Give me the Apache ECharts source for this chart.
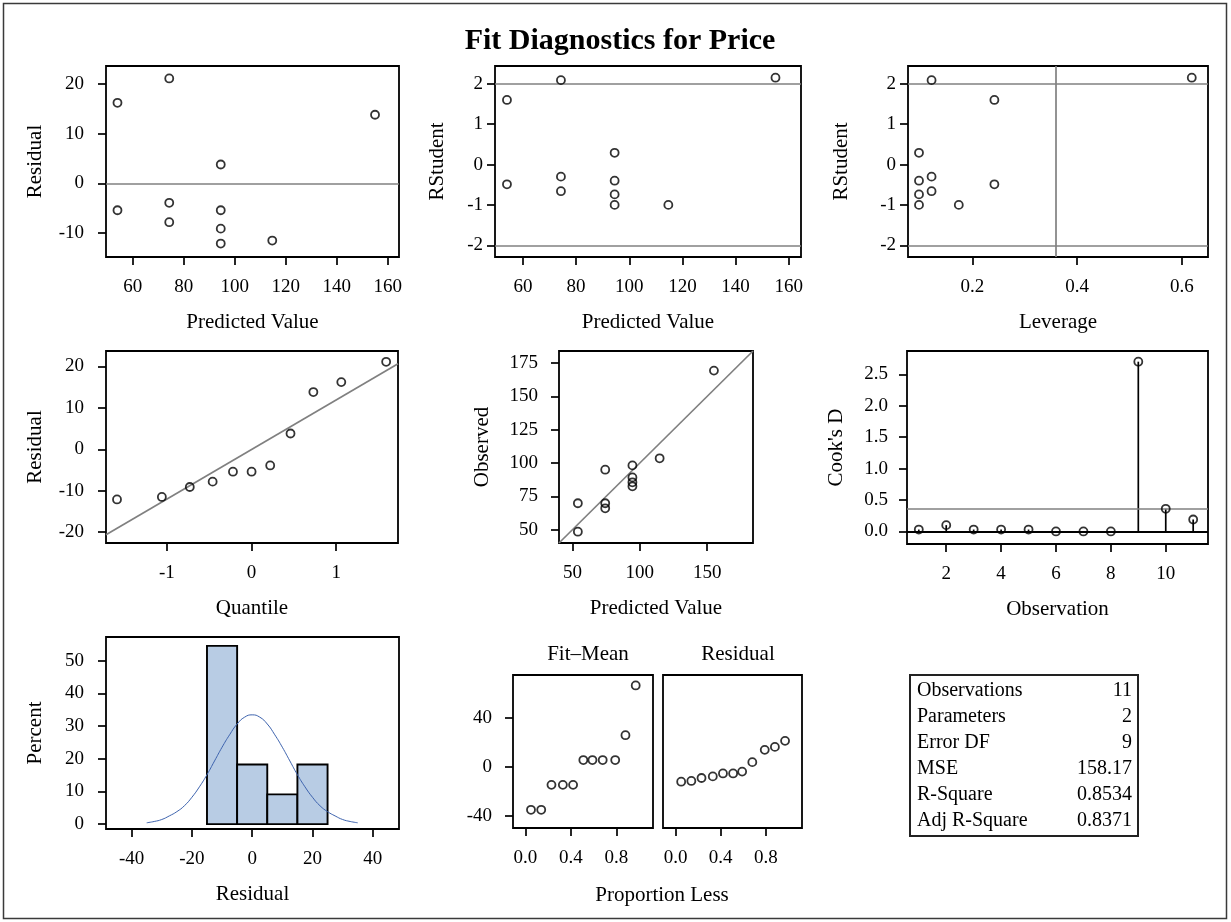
<!DOCTYPE html>
<html><head><meta charset="utf-8">
<script src="https://cdn.jsdelivr.net/npm/echarts@6/dist/echarts.min.js"></script>
<style>html,body{margin:0;padding:0;background:#fff}#c{width:1231px;height:922px}</style>
</head><body><div id="c"></div>
<script>
// ---------------- data ----------------
const observation = [1, 2, 3, 4, 5, 6, 7, 8, 9, 10, 11];
const predicted   = [54.0, 114.7, 74.3, 94.5, 94.5, 74.3, 94.5, 94.5, 155.0, 54.0, 74.3];
const residual    = [-5.4, -11.5, -7.8, -9.1, -12.1, -3.9, 3.8, -5.4, 13.8, 16.2, 21.1];
const rstudent    = [-0.49, -1.00, -0.66, -0.74, -1.00, -0.30, 0.29, -0.40, 2.15, 1.60, 2.09];
const leverage    = [0.242, 0.174, 0.122, 0.098, 0.098, 0.122, 0.098, 0.098, 0.619, 0.242, 0.122];
const observed    = [48.5, 103.5, 66.0, 85.5, 82.5, 69.8, 98.2, 89.2, 169.3, 69.8, 95.0];
const cooksD      = [0.03, 0.10, 0.03, 0.03, 0.03, 0.00, 0.00, 0.00, 2.70, 0.36, 0.19];
const cooksCutoff = [0.364];
const rstudentRef = [-2, 2];
const leverageRef = [0.364];
const quantile    = [-1.59, -1.06, -0.73, -0.46, -0.22, 0.00, 0.22, 0.46, 0.73, 1.06, 1.59];
const residualSorted = [-12.1, -11.5, -9.1, -7.8, -5.4, -5.4, -3.9, 3.8, 13.8, 16.2, 21.1];
const qqLine      = [[-1.72, -20.6], [1.73, 20.6]];
const fitMeanSorted  = [-35.0, -35.0, -14.7, -14.7, -14.7, 5.5, 5.5, 5.5, 5.5, 25.7, 66.2];
const proportionLess = [0.05, 0.14, 0.23, 0.33, 0.42, 0.51, 0.59, 0.68, 0.79, 0.88, 0.97];
const binStart    = [-15, -5, 5, 15];
const binEnd      = [-5, 5, 15, 25];
const binPercent  = [54.5, 18.2, 9.1, 18.2];
const normalX     = [-35, -32.5, -30, -27.5, -25, -22.5, -20, -17.5, -15, -12.5, -10, -7.5, -5, -2.5, 0,
                     2.5, 5, 7.5, 10, 12.5, 15, 17.5, 20, 22.5, 25, 27.5, 30, 32.5, 35];
const normalY     = [0.4, 0.8, 1.4, 2.5, 3.8, 5.6, 8.2, 11.4, 15.1, 19.3, 23.5, 27.3, 30.6, 32.7, 33.4,
                     32.7, 30.6, 27.3, 23.5, 19.3, 15.1, 11.4, 8.2, 5.6, 3.8, 2.5, 1.4, 0.8, 0.4];
const statLabels  = ['Observations', 'Parameters', 'Error DF', 'MSE', 'R-Square', 'Adj R-Square'];
const statValues  = ['11', '2', '9', '158.17', '0.8534', '0.8371'];
// tick labels
const ticksPred   = [60, 80, 100, 120, 140, 160];
const ticksResid  = [-10, 0, 10, 20];
const ticksRStud  = [-2, -1, 0, 1, 2];
const ticksLev    = [0.2, 0.4, 0.6];
const ticksQuant  = [-1, 0, 1];
const ticksQQRes  = [-20, -10, 0, 10, 20];
const ticksObsX   = [50, 100, 150];
const ticksObsY   = [50, 75, 100, 125, 150, 175];
const ticksObsNo  = [2, 4, 6, 8, 10];
const ticksCook   = [0, 0.5, 1.0, 1.5, 2.0, 2.5];
const ticksHistX  = [-40, -20, 0, 20, 40];
const ticksHistY  = [0, 10, 20, 30, 40, 50];
const ticksProp   = [0, 0.4, 0.8];
const ticksSpread = [-40, 0, 40];

// ---------------- styling ----------------
const FONT = 'Liberation Serif';
const TICK_FS = 19, NAME_FS = 21;
const GRAY = '#808080';
const zip = (a, b) => a.map((v, i) => [v, b[i]]);

const grids = [
  {left: 106, top: 66, width: 293, height: 191},   // 0 residual vs predicted
  {left: 495, top: 66, width: 306, height: 191},   // 1 rstudent vs predicted
  {left: 908, top: 66, width: 300, height: 191},   // 2 rstudent vs leverage
  {left: 106, top: 351, width: 292, height: 192},  // 3 qq
  {left: 559, top: 351, width: 194, height: 192},  // 4 observed vs predicted
  {left: 907, top: 351, width: 301, height: 193},  // 5 cook's d
  {left: 106, top: 637, width: 293, height: 192},  // 6 histogram
  {left: 513, top: 675, width: 140, height: 153},  // 7 fit-mean
  {left: 663, top: 675, width: 139, height: 153}   // 8 residual spread
].map(g => Object.assign({show: true, borderColor: '#000', borderWidth: 1.8, backgroundColor: 'transparent'}, g));

function fmtDec(d) { return v => Number(v).toFixed(d); }
function fmtInt(v) { return String(Math.round(v)); }

function xAx(gi, min, max, ticks, name, fmt, gap) {
  return {
    type: 'value', gridIndex: gi, min, max,
    axisLine: {show: false, onZero: false},
    axisTick: {show: true, length: 8, lineStyle: {color: '#000', width: 1.7}, customValues: ticks},
    axisLabel: {show: true, customValues: ticks, formatter: fmt || fmtInt, color: '#000',
                fontFamily: FONT, fontSize: TICK_FS, margin: 21},
    splitLine: {show: false},
    name: name || '', nameLocation: 'middle', nameGap: gap || 55,
    nameTextStyle: {color: '#000', fontFamily: FONT, fontSize: NAME_FS}
  };
}
function yAx(gi, min, max, ticks, name, fmt, gap, margin, noLabels) {
  return {
    type: 'value', gridIndex: gi, min, max,
    axisLine: {show: false, onZero: false},
    axisTick: {show: !noLabels, length: 8, lineStyle: {color: '#000', width: 1.7}, customValues: ticks},
    axisLabel: {show: !noLabels, customValues: ticks, formatter: fmt || fmtInt, color: '#000',
                fontFamily: FONT, fontSize: TICK_FS, margin: margin || 17},
    splitLine: {show: false},
    name: name || '', nameLocation: 'middle', nameGap: gap || 58, nameRotate: 90,
    nameTextStyle: {color: '#000', fontFamily: FONT, fontSize: NAME_FS}
  };
}

const xAxes = [
  xAx(0, 49.5, 164.4, ticksPred, 'Predicted Value'),
  xAx(1, 49.5, 164.6, ticksPred, 'Predicted Value'),
  xAx(2, 0.077, 0.65, ticksLev, 'Leverage', fmtDec(1)),
  xAx(3, -1.72, 1.73, ticksQuant, 'Quantile'),
  xAx(4, 40, 184, ticksObsX, 'Predicted Value'),
  xAx(5, 0.57, 11.54, ticksObsNo, 'Observation'),
  xAx(6, -48.5, 48.7, ticksHistX, 'Residual'),
  xAx(7, -0.108, 1.122, ticksProp, '', fmtDec(1)),
  xAx(8, -0.111, 1.12, ticksProp, '', fmtDec(1))
];
const yAxes = [
  yAx(0, -14.8, 23.6, ticksResid, 'Residual', null, 60, 22),
  yAx(1, -2.29, 2.44, ticksRStud, 'RStudent', null, 47, 12),
  yAx(2, -2.29, 2.44, ticksRStud, 'RStudent', null, 56, 12),
  yAx(3, -22.6, 23.7, ticksQQRes, 'Residual', null, 60, 22),
  yAx(4, 40, 184, ticksObsY, 'Observed', null, 66, 21),
  yAx(5, -0.2, 2.87, ticksCook, "Cook's D", fmtDec(1), 60, 19),
  yAx(6, -1.5, 57.2, ticksHistY, 'Percent', null, 60, 22),
  yAx(7, -49.8, 74.7, ticksSpread, '', null, 50, 21),
  yAx(8, -49.8, 74.7, ticksSpread, '', null, 50, 21, true)
];

const circle = {symbol: 'circle', symbolSize: 8,
  itemStyle: {color: 'rgba(0,0,0,0)', borderColor: '#000', borderWidth: 1.8}};
function scatter(gi, data, extra) {
  return Object.assign({type: 'scatter', xAxisIndex: gi, yAxisIndex: gi, data, z: 5, silent: true}, circle, extra || {});
}
function refLines(key, vals, color) {
  return {symbol: 'none', silent: true, animation: false, label: {show: false},
    lineStyle: {color: color || GRAY, type: 'solid', width: 1.7},
    data: vals.map(v => ({[key]: v}))};
}

const series = [
  scatter(0, zip(predicted, residual), {markLine: refLines('yAxis', [0])}),
  scatter(1, zip(predicted, rstudent), {markLine: refLines('yAxis', rstudentRef)}),
  scatter(2, zip(leverage, rstudent), {markLine: {
    symbol: 'none', silent: true, label: {show: false},
    lineStyle: {color: GRAY, type: 'solid', width: 1.7},
    data: rstudentRef.map(v => ({yAxis: v})).concat(leverageRef.map(v => ({xAxis: v})))}}),
  {type: 'line', xAxisIndex: 3, yAxisIndex: 3, data: qqLine, symbol: 'none', silent: true,
   lineStyle: {color: GRAY, width: 1.7}, z: 3},
  scatter(3, zip(quantile, residualSorted)),
  {type: 'line', xAxisIndex: 4, yAxisIndex: 4, data: [[40, 40], [184, 184]], symbol: 'none', silent: true,
   lineStyle: {color: GRAY, width: 1.7}, z: 3},
  scatter(4, zip(predicted, observed)),
  {type: 'custom', xAxisIndex: 5, yAxisIndex: 5, data: zip(observation, cooksD), silent: true, z: 4,
   renderItem: function (params, api) {
     const p0 = api.coord([api.value(0), 0]);
     const p1 = api.coord([api.value(0), api.value(1)]);
     return {type: 'line', shape: {x1: p0[0], y1: p0[1], x2: p1[0], y2: p1[1]},
             style: {stroke: '#000', lineWidth: 1.7}};
   }},
  scatter(5, zip(observation, cooksD), {markLine: {
    symbol: 'none', silent: true, label: {show: false},
    data: [
      {yAxis: 0, lineStyle: {color: '#000', type: 'solid', width: 1.9}},
      {yAxis: cooksCutoff[0], lineStyle: {color: GRAY, type: 'solid', width: 1.7}}
    ]}}),
  {type: 'custom', xAxisIndex: 6, yAxisIndex: 6, silent: true, z: 2,
   data: binStart.map((s, i) => [s, binEnd[i], binPercent[i]]),
   encode: {x: [0, 1], y: 2},
   renderItem: function (params, api) {
     const p0 = api.coord([api.value(0), api.value(2)]);
     const p1 = api.coord([api.value(1), 0]);
     return {type: 'rect', shape: {x: p0[0], y: p0[1], width: p1[0] - p0[0], height: p1[1] - p0[1]},
             style: {fill: '#B8CCE4', stroke: '#000', lineWidth: 1.9}};
   }},
  {type: 'line', xAxisIndex: 6, yAxisIndex: 6, data: zip(normalX, normalY), symbol: 'none', smooth: true,
   silent: true, z: 4, lineStyle: {color: '#3D63AE', width: 1}},
  scatter(7, zip(proportionLess, fitMeanSorted)),
  scatter(8, zip(proportionLess, residualSorted))
];

// ---------------- table + border (graphic) ----------------
const T = {left: 910, top: 675, width: 228, rowH: 26};
const graphic = [
  {type: 'rect', shape: {x: 3.5, y: 3.5, width: 1223, height: 915}, style: {fill: 'none', stroke: '#3a3a3a', lineWidth: 1.5}, silent: true},
  {type: 'rect', shape: {x: T.left, y: T.top, width: T.width, height: T.rowH * statLabels.length + 5},
   style: {fill: '#fff', stroke: '#222', lineWidth: 2}, silent: true}
];
statLabels.forEach((lab, i) => {
  const cy = T.top + 3 + T.rowH * (i + 0.5);
  graphic.push({type: 'text', x: T.left + 7, y: cy, silent: true,
    style: {text: lab, fontFamily: FONT, fontSize: 20, fill: '#000', textAlign: 'left', textVerticalAlign: 'middle'}});
  graphic.push({type: 'text', x: T.left + T.width - 6, y: cy, silent: true,
    style: {text: statValues[i], fontFamily: FONT, fontSize: 20, fill: '#000', textAlign: 'right', textVerticalAlign: 'middle'}});
});

const titles = [
  {text: 'Fit Diagnostics for Price', left: 615, top: 21, textAlign: 'center',
   textStyle: {fontFamily: FONT, fontSize: 30, fontWeight: 'bold', color: '#000'}},
  {text: 'Fit\u2013Mean', left: 583, top: 639, textAlign: 'center',
   textStyle: {fontFamily: FONT, fontSize: NAME_FS, fontWeight: 'normal', color: '#000'}},
  {text: 'Residual', left: 733, top: 639, textAlign: 'center',
   textStyle: {fontFamily: FONT, fontSize: NAME_FS, fontWeight: 'normal', color: '#000'}},
  {text: 'Proportion Less', left: 657, top: 880, textAlign: 'center',
   textStyle: {fontFamily: FONT, fontSize: NAME_FS, fontWeight: 'normal', color: '#000'}}
];

const chart = echarts.init(document.getElementById('c'), null, {renderer: 'canvas'});
chart.setOption({
  animation: false,
  backgroundColor: '#fff',
  title: titles,
  grid: grids,
  xAxis: xAxes,
  yAxis: yAxes,
  series,
  graphic
});
</script></body></html>
